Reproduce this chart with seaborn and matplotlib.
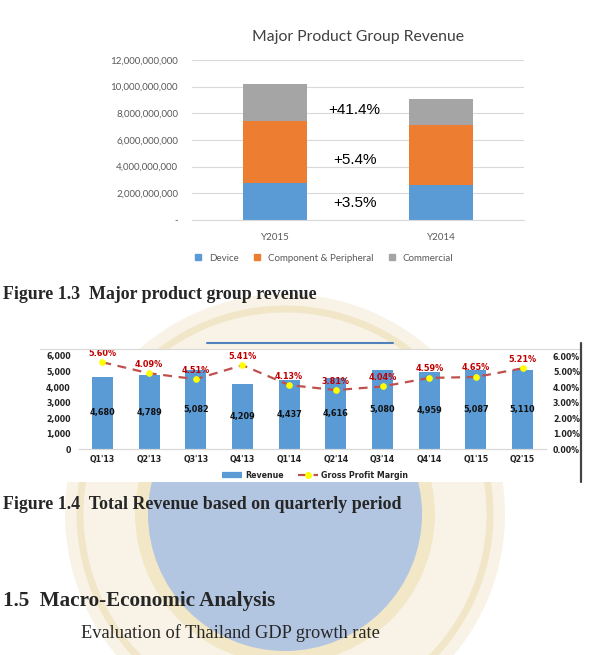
import numpy as np
import matplotlib
matplotlib.use("Agg")
import matplotlib.pyplot as plt
from matplotlib.patches import Circle, Rectangle, Wedge
from matplotlib.lines import Line2D
from matplotlib.ticker import FuncFormatter, MultipleLocator
from matplotlib.font_manager import FontProperties
import seaborn as sns

# Figure 1.3 data (baht)
years = ["Y2015", "Y2014"]
device = [2.75e9, 2.65e9]
component = [4.68e9, 4.48e9]
commercial = [2.75e9, 1.945e9]
growth = ["+41.4%", "+5.4%", "+3.5%"]   # commercial, component, device

# Figure 1.4 data
quarters = ["Q1'13", "Q2'13", "Q3'13", "Q4'13", "Q1'14",
            "Q2'14", "Q3'14", "Q4'14", "Q1'15", "Q2'15"]
revenue = [4680, 4789, 5082, 4209, 4437, 4616, 5080, 4959, 5087, 5110]
margin = [5.60, 4.89, 4.51, 5.41, 4.13, 3.81, 4.04, 4.59, 4.65, 5.21]
margin_labels = ["5.60%", "4.09%", "4.51%", "5.41%", "4.13%",
                 "3.81%", "4.04%", "4.59%", "4.65%", "5.21%"]

BLUE = "#5B9BD5"
ORANGE = "#ED7D31"
GRAY = "#A5A5A5"
TXT = "#595959"

sns.set_style("white")
plt.rcParams["font.family"] = ["Lato", "DejaVu Sans"]

W, H = 592, 655
fig = plt.figure(figsize=(W / 100, H / 100), dpi=100)


def box(x0, y0, x1, y1):
    # pixel box (top-left origin) -> figure fraction rect
    return [x0 / W, 1 - y1 / H, (x1 - x0) / W, (y1 - y0) / H]


def fxy(x, y):
    return x / W, 1 - y / H


# faint university seal in the page background
inch = fig.dpi_scale_trans
cx, cy = 2.85, (H - 514) / 100
fig.patches.append(Wedge((cx, cy), 2.2, 0, 360, width=0.7, transform=inch,
                         facecolor="#F8F3E6", edgecolor="none", zorder=-5))
fig.patches.append(Circle((cx, cy), 2.05, transform=inch, facecolor="none",
                          edgecolor="#F1E6C8", lw=5, zorder=-4))
fig.patches.append(Circle((cx, cy), 1.5, transform=inch, facecolor="#F2E7C6",
                          edgecolor="none", zorder=-4))
fig.patches.append(Circle((cx, cy), 1.37, transform=inch, facecolor="#B2C5E1",
                          edgecolor="none", zorder=-3))

# ---------------- Figure 1.3 ----------------
ax1 = fig.add_axes(box(192, 60, 524, 220))
totals = [d + c + m for d, c, m in zip(device, component, commercial)]
lower = [d + c for d, c in zip(device, component)]
sns.barplot(x=years, y=totals, order=years, color=GRAY, saturation=1,
            width=0.39, errorbar=None, linewidth=0, ax=ax1)
sns.barplot(x=years, y=lower, order=years, color=ORANGE, saturation=1,
            width=0.39, errorbar=None, linewidth=0, ax=ax1)
sns.barplot(x=years, y=device, order=years, color=BLUE, saturation=1,
            width=0.39, errorbar=None, linewidth=0, ax=ax1)
ax1.set_ylim(0, 12e9)
ax1.set_xlim(-0.5, 1.5)
ax1.yaxis.set_major_locator(MultipleLocator(2e9))
ax1.yaxis.set_major_formatter(FuncFormatter(lambda v, p: "-" if v == 0 else f"{v:,.0f}"))
ax1.grid(axis="y", color="#D9D9D9", lw=0.8)
ax1.set_axisbelow(True)
for s in ["top", "right", "left"]:
    ax1.spines[s].set_visible(False)
ax1.spines["bottom"].set_color("#D9D9D9")
ax1.tick_params(axis="both", length=0, labelsize=7, labelcolor=TXT)
ax1.tick_params(axis="y", pad=10)
ax1.tick_params(axis="x", pad=9)
ax1.set_xlabel("")
ax1.set_ylabel("")
ax1.set_facecolor("none")
ax1.set_title("Major Product Group Revenue", fontsize=11.3, color="#404040", pad=14)
for lab, yv in zip(growth, [8.25e9, 4.5e9, 1.28e9]):
    ax1.text(0.48, yv, lab, ha="center", va="center", fontsize=11,
             family="Liberation Sans", color="black")

h1 = [Line2D([], [], marker="s", ls="", color=c, markersize=4.5) for c in (BLUE, ORANGE, GRAY)]
fig.legend(h1, ["Device", "Component & Peripheral", "Commercial"], loc="center",
           bbox_to_anchor=fxy(321, 258), ncol=3, frameon=False, fontsize=7,
           handletextpad=0.1, columnspacing=0.9, labelcolor=TXT)

# ---------------- Figure 1.4 ----------------
fig.patches.append(Rectangle(fxy(40, 482), 541 / W, 133 / H, transform=fig.transFigure,
                             facecolor="white", edgecolor="none", zorder=-1))
fig.lines.append(Line2D([40 / W, 581 / W], [1 - 349 / H] * 2, transform=fig.transFigure,
                        color="#D9D9D9", lw=0.8))
fig.lines.append(Line2D([207 / W, 393 / W], [1 - 343 / H] * 2, transform=fig.transFigure,
                        color="#4F81BD", lw=1.5))
fig.lines.append(Line2D([581 / W] * 2, [1 - 343 / H, 1 - 482 / H], transform=fig.transFigure,
                        color="#444444", lw=1.6))


def nfont(size):
    return FontProperties(family=["DejaVu Sans"], stretch="condensed",
                          weight="bold", size=size)


ax2 = fig.add_axes(box(79, 356, 546, 449.3))
sns.barplot(x=quarters, y=revenue, order=quarters, color=BLUE, saturation=1,
            width=0.45, errorbar=None, linewidth=0, ax=ax2)
ax2.set_ylim(0, 6000)
ax2.yaxis.set_major_locator(MultipleLocator(1000))
ax2.yaxis.set_major_formatter(FuncFormatter(lambda v, p: f"{v:,.0f}"))
for i, v in enumerate(revenue):
    ax2.text(i, v / 2, f"{v:,}", ha="center", va="center",
             fontproperties=nfont(6.5), color="#111111")

ax3 = ax2.twinx()
sns.lineplot(x=np.arange(len(quarters)), y=margin, ax=ax3, color="#C0504D",
             linestyle=(0, (4, 3)), lw=1.6, marker="o", markersize=4,
             markerfacecolor="#FFFF00", markeredgecolor="#FFFF00")
ax3.set_ylim(0, 6)
ax3.yaxis.set_major_locator(MultipleLocator(1))
ax3.yaxis.set_major_formatter(FuncFormatter(lambda v, p: f"{v:.2f}%"))
for i, (m, lab) in enumerate(zip(margin, margin_labels)):
    ax3.annotate(lab, (i, m), xytext=(0, 6.5), textcoords="offset points",
                 ha="center", va="center", fontproperties=nfont(6.5),
                 color="#C00000")
ax2.set_xlim(-0.5, len(quarters) - 0.5)

for a in (ax2, ax3):
    for s in ["top", "right", "left"]:
        a.spines[s].set_visible(False)
    a.spines["bottom"].set_color("#D9D9D9")
    a.tick_params(axis="both", length=0, labelcolor="#222222")
    a.set_xlabel("")
    a.set_ylabel("")
    a.set_facecolor("none")
    for t in a.get_xticklabels() + a.get_yticklabels():
        t.set_fontproperties(nfont(6.3))
ax2.tick_params(axis="y", pad=6)
ax3.tick_params(axis="y", pad=5)
ax2.tick_params(axis="x", pad=4)

h2 = [Line2D([], [], color=BLUE, lw=4.5, solid_capstyle="butt"),
      Line2D([], [], color="#C0504D", lw=1.6, ls=(0, (4, 3)), marker="o",
             markersize=4, markerfacecolor="#FFFF00", markeredgecolor="#FFFF00")]
fig.legend(h2, ["Revenue", "Gross Profit Margin"], loc="center",
           bbox_to_anchor=fxy(315, 476), ncol=2, frameon=False,
           prop=nfont(6.3), handlelength=2.3, handletextpad=0.4, columnspacing=1.6)

# ---------------- page text ----------------
serif = ["Liberation Serif", "DejaVu Serif"]
fig.text(*fxy(3, 299), "Figure 1.3  Major product group revenue", family=serif,
         weight="bold", fontsize=12.9, va="baseline")
fig.text(*fxy(3, 509), "Figure 1.4  Total Revenue based on quarterly period", family=serif,
         weight="bold", fontsize=12.9, va="baseline")
fig.text(*fxy(3, 606), "1.5  Macro-Economic Analysis", family=serif,
         weight="bold", fontsize=15.2, va="baseline")
fig.text(*fxy(81, 638), "Evaluation of Thailand GDP growth rate", family=serif,
         fontsize=13.2, va="baseline")

fig.savefig("out.png", dpi=100)
